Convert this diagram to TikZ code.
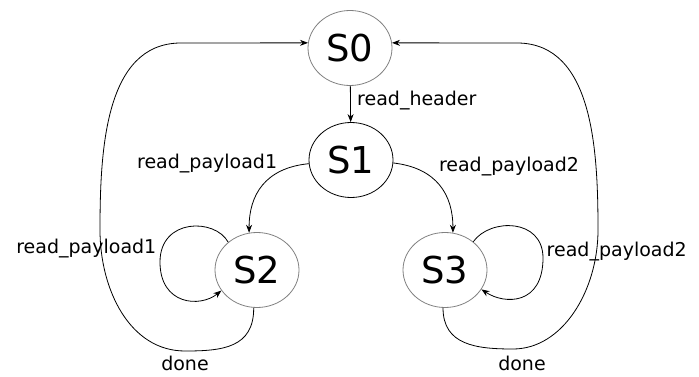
\documentclass[tikz,border=0pt]{standalone}
\usepackage{fontspec}
\setmainfont{DejaVu Sans}
\usetikzlibrary{arrows.meta,shapes.geometric}

\begin{document}
\begin{tikzpicture}[x=1pt, y=-1pt,
    statenode/.style={ellipse, draw=gray, line width=0.8pt, minimum width=84pt, minimum height=75pt, inner sep=0pt, font=\fontsize{37}{44}\selectfont},
    trans/.style={-{Stealth[length=8pt, width=6pt]}, line width=0.8pt},
    lbl/.style={font=\fontsize{19}{23}\selectfont}]
    \useasboundingbox (0,0) rectangle (699,377);
    \node[statenode] (S0) at (350,48) {S0};
    \node[statenode, draw=black] (S1) at (351,160) {S1};
    \node[statenode] (S2) at (257,270) {S2};
    \node[statenode] (S3) at (445,270) {S3};

    \draw[trans] (S0) -- (S1) node[lbl, pos=0.4, right, xshift=3pt] {read\_header};
    \draw[trans] (S1.185) .. controls (265,168) and (249,195) .. (S2.102)
        node[lbl, at start, left=28pt] {read\_payload1};
    \draw[trans] (S1.356) .. controls (437,168) and (453,195) .. (S3.78)
        node[lbl, at start, right=42pt, yshift=-4pt] {read\_payload2};

    % self loops
    \draw[trans] (S2.136) .. controls (215,218) and (160,218) .. (160,262) node[lbl, above left] {read\_payload1}
        .. controls (160,305) and (200,308) .. (S2.210);
    \draw[trans] (S3.45) .. controls (490,218) and (543,218) .. (543,258) node[lbl, right, yshift=6pt] {read\_payload2}
        .. controls (543,305) and (505,305) .. (S3.332);

    % back to S0
    \draw[trans] (S2.265) .. controls (254,348) and (222,351) .. (185,351) node[lbl, below=3pt, inner sep=2pt] {done}
        .. controls (130,351) and (100,290) .. (100,230) .. controls (100,150) and (105,44) .. (180,43) -- (S0.173);
    \draw[trans] (S3.267) .. controls (443,345) and (476,349) .. (513,349) node[lbl, below=3pt, xshift=9pt] {done}
        .. controls (563,349) and (598,290) .. (598,230) .. controls (598,150) and (593,44) .. (518,43) -- (S0.7);
\end{tikzpicture}
\end{document}
